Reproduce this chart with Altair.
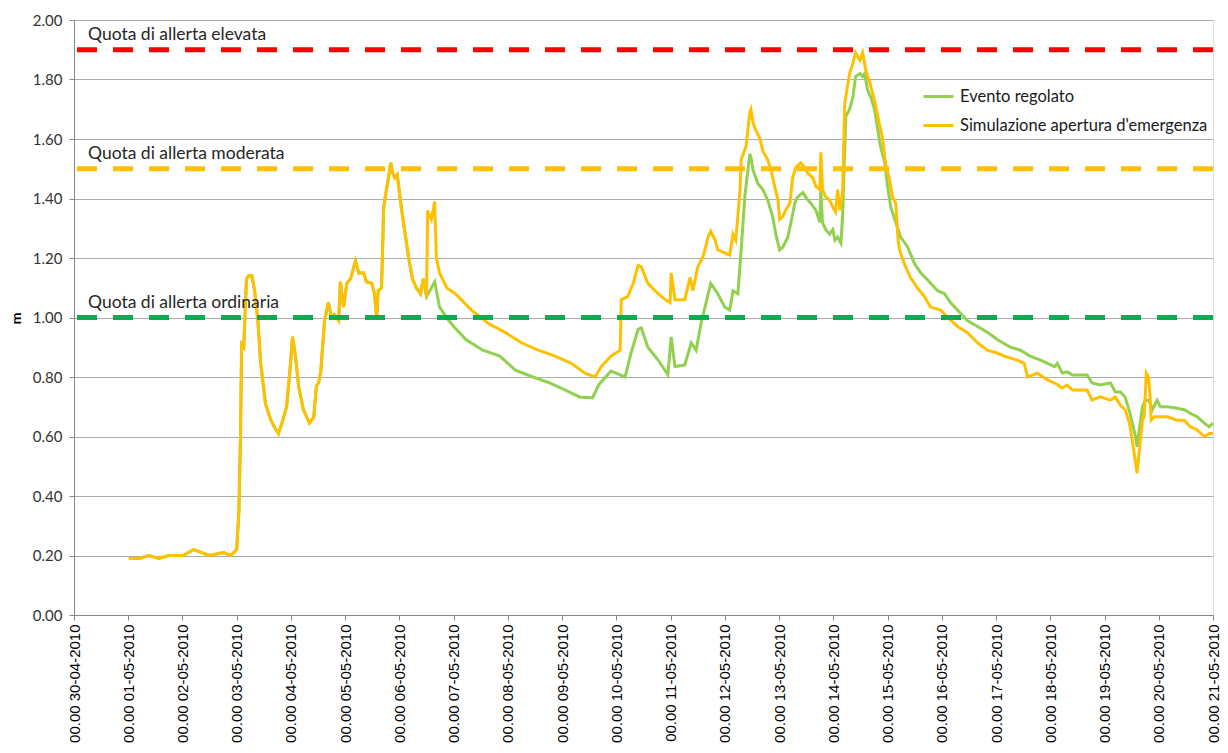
import json
import altair as alt
import pandas as pd

# ---------------- data ----------------
day_labels = ["30-04-2010", "01-05-2010", "02-05-2010", "03-05-2010", "04-05-2010",
              "05-05-2010", "06-05-2010", "07-05-2010", "08-05-2010", "09-05-2010",
              "10-05-2010", "11-05-2010", "12-05-2010", "13-05-2010", "14-05-2010",
              "15-05-2010", "16-05-2010", "17-05-2010", "18-05-2010", "19-05-2010",
              "20-05-2010", "21-05-2010"]
tick_labels = ["00.00 " + d for d in day_labels]

# days since 30-04-2010 00.00 ; both series coincide until ~6.5 days
shared_days = [1.01, 1.20, 1.38, 1.56, 1.75, 2.01, 2.21, 2.49, 2.76, 2.89,
               3.00, 3.04, 3.07, 3.09, 3.13, 3.18, 3.22, 3.28, 3.33, 3.39,
               3.44, 3.53, 3.63, 3.70, 3.77, 3.85, 3.92, 3.98, 4.03, 4.09,
               4.14, 4.23, 4.34, 4.42, 4.47, 4.51, 4.55, 4.62, 4.69, 4.75,
               4.80, 4.88, 4.91, 4.97, 5.03, 5.10, 5.19, 5.25, 5.34, 5.39,
               5.49, 5.54, 5.58, 5.61, 5.67, 5.71, 5.76, 5.80, 5.84, 5.87,
               5.91, 5.96, 6.02, 6.09, 6.17, 6.24, 6.31, 6.39, 6.44, 6.50]
shared_vals = [0.19, 0.19, 0.20, 0.19, 0.20, 0.20, 0.22, 0.20, 0.21, 0.20,
               0.22, 0.35, 0.60, 0.91, 0.90, 1.13, 1.14, 1.14, 1.09, 0.99,
               0.85, 0.71, 0.655, 0.63, 0.61, 0.655, 0.70, 0.82, 0.935, 0.86,
               0.77, 0.69, 0.645, 0.665, 0.77, 0.78, 0.82, 0.99, 1.05, 1.00,
               1.01, 0.99, 1.12, 1.035, 1.115, 1.13, 1.19, 1.15, 1.15, 1.12,
               1.115, 1.08, 1.00, 1.09, 1.10, 1.37, 1.43, 1.47, 1.52, 1.49,
               1.47, 1.48, 1.39, 1.30, 1.20, 1.13, 1.10, 1.08, 1.13, 1.07]

green_days = [6.65, 6.74, 6.91, 7.00, 7.23, 7.54, 7.85, 8.14, 8.46, 8.77,
              9.06, 9.32, 9.56, 9.68, 9.90, 10.16, 10.27, 10.40, 10.46, 10.58,
              10.77, 10.95, 11.01, 11.08, 11.26, 11.38, 11.47, 11.56, 11.74, 11.87,
              12.00, 12.09, 12.15, 12.24, 12.30, 12.37, 12.46, 12.48, 12.52, 12.61,
              12.70, 12.79, 12.88, 12.94, 13.01, 13.07, 13.16, 13.22, 13.29, 13.34,
              13.44, 13.49, 13.58, 13.68, 13.75, 13.77, 13.80, 13.86, 13.93, 13.99,
              14.03, 14.08, 14.14, 14.17, 14.23, 14.30, 14.36, 14.41, 14.49, 14.54,
              14.58, 14.63, 14.69, 14.76, 14.82, 14.87, 14.95, 15.00, 15.06, 15.15,
              15.24, 15.37, 15.50, 15.61, 15.74, 15.92, 16.05, 16.16, 16.34, 16.47,
              16.66, 16.84, 17.03, 17.27, 17.45, 17.63, 17.82, 18.08, 18.13, 18.22,
              18.31, 18.41, 18.68, 18.77, 18.92, 19.11, 19.20, 19.29, 19.38, 19.47,
              19.57, 19.60, 19.64, 19.70, 19.75, 19.82, 19.88, 19.97, 20.03, 20.16,
              20.34, 20.47, 20.58, 20.71, 20.84, 20.93, 21.00]
green_vals = [1.12, 1.035, 0.99, 0.97, 0.925, 0.89, 0.87, 0.823, 0.80, 0.78,
              0.756, 0.733, 0.73, 0.775, 0.82, 0.80, 0.88, 0.96, 0.965, 0.90,
              0.857, 0.807, 0.935, 0.835, 0.84, 0.915, 0.89, 0.98, 1.115, 1.08,
              1.035, 1.025, 1.09, 1.08, 1.227, 1.41, 1.55, 1.54, 1.495, 1.45,
              1.43, 1.395, 1.34, 1.28, 1.227, 1.237, 1.27, 1.32, 1.385, 1.405,
              1.42, 1.405, 1.385, 1.36, 1.32, 1.43, 1.32, 1.295, 1.28, 1.295,
              1.26, 1.27, 1.25, 1.34, 1.675, 1.70, 1.74, 1.81, 1.82, 1.81,
              1.82, 1.765, 1.74, 1.70, 1.63, 1.575, 1.52, 1.44, 1.37, 1.32,
              1.27, 1.237, 1.18, 1.15, 1.126, 1.09, 1.08, 1.05, 1.015, 0.99,
              0.97, 0.95, 0.925, 0.90, 0.89, 0.87, 0.857, 0.835, 0.846, 0.813,
              0.817, 0.807, 0.807, 0.78, 0.773, 0.78, 0.75, 0.75, 0.733, 0.678,
              0.60, 0.565, 0.622, 0.70, 0.722, 0.722, 0.69, 0.722, 0.70, 0.70,
              0.695, 0.69, 0.678, 0.666, 0.645, 0.633, 0.645]

orange_days = [6.52, 6.59, 6.65, 6.68, 6.74, 6.87, 7.03, 7.33, 7.64, 7.95,
               8.25, 8.56, 8.87, 9.17, 9.42, 9.61, 9.72, 9.90, 10.07, 10.09,
               10.21, 10.31, 10.40, 10.46, 10.58, 10.77, 10.90, 10.99, 11.01, 11.08,
               11.26, 11.36, 11.41, 11.50, 11.60, 11.69, 11.74, 11.82, 11.87, 12.00,
               12.09, 12.15, 12.20, 12.24, 12.28, 12.30, 12.39, 12.46, 12.48, 12.52,
               12.57, 12.65, 12.70, 12.79, 12.85, 12.92, 12.98, 13.01, 13.07, 13.12,
               13.20, 13.25, 13.31, 13.40, 13.47, 13.53, 13.62, 13.68, 13.75, 13.77,
               13.80, 13.86, 13.93, 13.99, 14.04, 14.08, 14.12, 14.14, 14.17, 14.21,
               14.30, 14.36, 14.41, 14.49, 14.54, 14.60, 14.67, 14.76, 14.82, 14.91,
               14.96, 15.04, 15.09, 15.15, 15.19, 15.22, 15.31, 15.42, 15.55, 15.68,
               15.79, 15.98, 16.11, 16.29, 16.47, 16.66, 16.84, 17.03, 17.15, 17.39,
               17.52, 17.58, 17.76, 17.95, 18.13, 18.22, 18.31, 18.41, 18.68, 18.77,
               18.92, 19.11, 19.20, 19.29, 19.38, 19.46, 19.51, 19.60, 19.66, 19.70,
               19.73, 19.77, 19.81, 19.84, 19.86, 19.92, 19.97, 20.16, 20.34, 20.47,
               20.58, 20.71, 20.84, 20.93, 21.00]
orange_vals = [1.36, 1.33, 1.39, 1.20, 1.15, 1.10, 1.08, 1.025, 0.98, 0.95,
               0.915, 0.89, 0.87, 0.846, 0.813, 0.80, 0.835, 0.87, 0.89, 1.06,
               1.07, 1.115, 1.175, 1.17, 1.115, 1.08, 1.06, 1.05, 1.15, 1.06,
               1.06, 1.135, 1.09, 1.17, 1.205, 1.27, 1.29, 1.26, 1.227, 1.217,
               1.21, 1.28, 1.26, 1.34, 1.43, 1.53, 1.575, 1.69, 1.70, 1.655,
               1.63, 1.60, 1.56, 1.53, 1.495, 1.44, 1.395, 1.33, 1.34, 1.36,
               1.385, 1.47, 1.505, 1.52, 1.505, 1.485, 1.47, 1.44, 1.43, 1.555,
               1.43, 1.405, 1.395, 1.37, 1.355, 1.43, 1.36, 1.385, 1.42, 1.72,
               1.82, 1.855, 1.89, 1.865, 1.89, 1.83, 1.79, 1.73, 1.675, 1.60,
               1.52, 1.46, 1.405, 1.385, 1.27, 1.227, 1.18, 1.135, 1.10, 1.07,
               1.035, 1.025, 1.00, 0.97, 0.95, 0.915, 0.89, 0.88, 0.87, 0.857,
               0.846, 0.80, 0.813, 0.79, 0.775, 0.763, 0.773, 0.756, 0.756, 0.722,
               0.733, 0.722, 0.733, 0.706, 0.69, 0.645, 0.588, 0.477, 0.588, 0.655,
               0.666, 0.813, 0.80, 0.733, 0.655, 0.666, 0.666, 0.666, 0.655, 0.655,
               0.633, 0.622, 0.60, 0.61, 0.61]

series_names = ["Evento regolato", "Simulazione apertura d'emergenza"]
series_colors = ["#92D050", "#FFC000"]

threshold_values = [1.9, 1.5, 1.0]
threshold_colors = ["#FF0000", "#FFC000", "#00B050"]
threshold_labels = ["Quota di allerta elevata", "Quota di allerta moderata",
                    "Quota di allerta ordinaria"]

# ---------------- tables ----------------
green_df = pd.DataFrame({"day": shared_days + green_days,
                         "value": shared_vals + green_vals})
green_df["series"] = series_names[0]
orange_df = pd.DataFrame({"day": shared_days + orange_days,
                          "value": shared_vals + orange_vals})
orange_df["series"] = series_names[1]
thr_df = pd.DataFrame({"value": threshold_values, "color": threshold_colors,
                       "label": threshold_labels})

label_expr = json.dumps(tick_labels) + "[datum.value]"

x_enc = alt.X("day:Q",
              scale=alt.Scale(domain=[0, 21], nice=False, zero=False),
              axis=alt.Axis(values=list(range(22)), labelExpr=label_expr,
                            labelAngle=270, labelFont="Liberation Sans",
                            labelFontSize=15, labelColor="#000000",
                            labelPadding=4, tickSize=5, tickColor="#868686",
                            domainColor="#868686", grid=False, title=None,
                            labelOverlap=False, labelBound=False,
                            labelFlush=False))
y_enc = alt.Y("value:Q",
              scale=alt.Scale(domain=[0, 2], nice=False),
              axis=alt.Axis(values=[round(0.2 * i, 1) for i in range(11)],
                            format=".2f", labelFont="Lato", labelFontSize=15,
                            labelColor="#333333", labelPadding=7, tickSize=5,
                            tickColor="#868686", domainColor="#868686",
                            grid=True, gridColor="#ADADAD", gridWidth=1,
                            title="m", titleFont="Lato", titleFontSize=14,
                            titleFontWeight="bold", titleColor="#000000",
                            titleAngle=270, titleBaseline="middle",
                            titleX=-58, titleY=298))

color_enc = alt.Color("series:N",
                      scale=alt.Scale(domain=series_names, range=series_colors),
                      legend=alt.Legend(orient="none", legendX=848, legendY=60,
                                        title=None, symbolType="stroke",
                                        symbolSize=900, symbolStrokeWidth=3,
                                        labelFont="Lato", labelFontSize=16.5,
                                        labelColor="#1a1a1a", labelOffset=5,
                                        labelLimit=400, rowPadding=4,
                                        padding=0))

green_line = alt.Chart(green_df).mark_line(strokeWidth=3).encode(
    x=x_enc, y=y_enc, color=color_enc)
orange_line = alt.Chart(orange_df).mark_line(strokeWidth=3).encode(
    x=x_enc, y=y_enc, color=color_enc)

rules = alt.Chart(thr_df).mark_rule(strokeWidth=5, strokeDash=[20, 16]).encode(
    y=alt.Y("value:Q"), color=alt.Color("color:N", scale=None))

texts = alt.Chart(thr_df).mark_text(align="left", baseline="middle", dx=14,
                                    dy=-15, font="Lato", fontSize=17.5,
                                    color="#262626").encode(
    x=alt.value(0), y=alt.Y("value:Q"), text="label:N")

chart = alt.layer(green_line, orange_line, rules, texts).properties(
    width=1139, height=595,
    padding={"left": 66, "top": 12, "right": 7, "bottom": 130},
    autosize=alt.AutoSizeParams(type="none"),
).configure_view(stroke=None).configure(background="white")

chart.save("out.html", embed_options={"renderer": "svg", "actions": False})
